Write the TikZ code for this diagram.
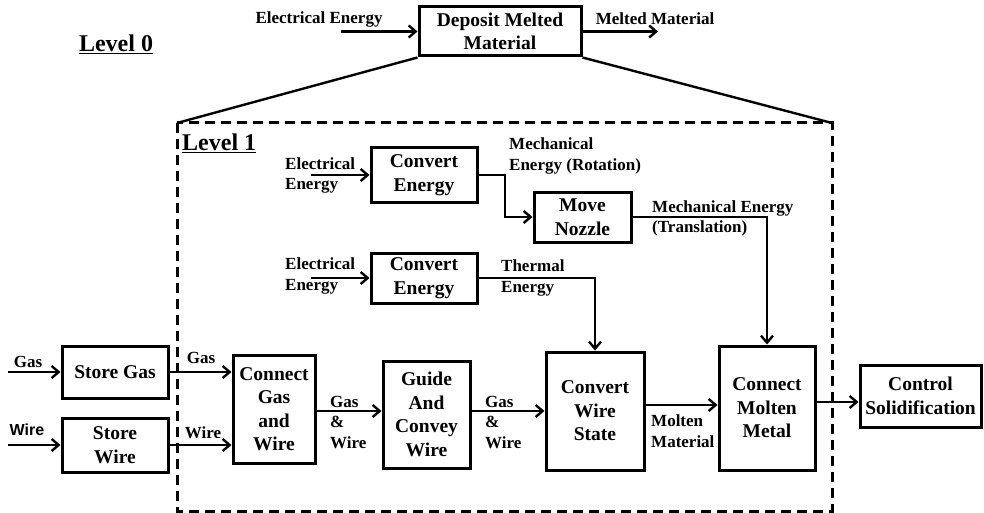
\documentclass[tikz,border=0pt]{standalone}
\usepackage{fontspec}
\setmainfont{Liberation Serif}
\newfontfamily\sansb{Liberation Sans}
\usetikzlibrary{arrows.meta}
\begin{document}
\begin{tikzpicture}[x=1pt,y=-1pt,
  box/.style={draw, line width=3pt, inner sep=0pt, align=center,
    font=\fontsize{19.5}{23.5}\selectfont\bfseries},
  lbl/.style={inner sep=0pt, align=left, font=\fontsize{17}{20.5}\selectfont\bfseries},
  arr/.style={line width=2.4pt, -{Straight Barb[length=7pt,width=12pt]}},
  conn/.style={line width=2.4pt},
  lev/.style={inner sep=0pt, font=\fontsize{24}{28}\selectfont\bfseries}]
\useasboundingbox (0,0) rectangle (984,513);

% Level 0
\node[box, minimum width=162, minimum height=49] (dep) at (500,31.5) {Deposit Melted\\Material};
\coordinate (eein) at (341,31.5);
\coordinate (mmout) at (658,31.5);
\draw[arr] (eein) -- (dep.west);
\draw[arr] (dep.east) -- (mmout);
\node[lbl] (eelab) at (319,19) {Electrical Energy};
\node[lbl] (mmlab) at (655,19) {Melted Material};
\node[lev] (lev0) at (116,44) {\underline{Level 0}};

% dashed frame and expansion lines
\coordinate (fTL) at (177,123);
\coordinate (fTR) at (832,123);
\coordinate (fBR) at (832,511);
\draw[conn] (dep.south west) -- (fTL);
\draw[conn] (dep.south east) -- (fTR);
\draw[line width=3pt, dash pattern=on 10pt off 6pt] (fTL) rectangle (fBR);
\node[lev, anchor=west] (lev1) at (182,143) {\underline{Level 1}};

% boxes
\node[box, minimum width=106, minimum height=54] (ce1) at (424,175) {Convert\\Energy};
\node[box, minimum width=106, minimum height=50] (ce2) at (424,278) {Convert\\Energy};
\node[box, minimum width=97, minimum height=50] (mn) at (582.5,217) {Move\\Nozzle};
\node[box, minimum width=98, minimum height=118] (cws) at (595,411) {Convert\\Wire\\State};
\node[box, minimum width=96, minimum height=124] (cmm) at (767,408) {Connect\\Molten\\Metal};
\node[box, minimum width=121, minimum height=62] (cs) at (920.5,396) {Control\\Solidification};
\node[box, minimum width=106, minimum height=52] (sg) at (115,372) {Store Gas};
\node[box, minimum width=106, minimum height=54] (sw) at (115,445) {Store\\Wire};
\node[box, minimum width=82, minimum height=108] (cgw) at (274,409) {Connect\\Gas\\and\\Wire};
\node[box, minimum width=87, minimum height=107] (gcw) at (426.5,414.5) {Guide\\And\\Convey\\Wire};

% helper coordinates
\coordinate (ee1in) at (311,175);
\coordinate (ee2in) at (311,278);
\coordinate (rot) at (505,175);
\coordinate (gasin) at (8,372);
\coordinate (wirein) at (8,445);
\coordinate (ya) at (0,411);
\coordinate (yb) at (0,405);
\coordinate (yc) at (0,402);

% connectors
\draw[arr] (ee1in) -- (ce1.west);
\draw[arr] (ee2in) -- (ce2.west);
\draw[arr] (ce1.east) -- (rot) |- (mn.west);
\draw[arr] (ce2.east) -| (cws.north);
\draw[arr] (mn.east) -| (cmm.north);
\draw[arr] (gasin) -- (sg.west);
\draw[arr] (wirein) -- (sw.west);
\draw[arr] (sg.east) -- (sg.east -| cgw.west);
\draw[arr] (sw.east) -- (sw.east -| cgw.west);
\draw[arr] (cgw.east |- ya) -- (gcw.west |- ya);
\draw[arr] (gcw.east |- ya) -- (cws.west |- ya);
\draw[arr] (cws.east |- yb) -- (cmm.west |- yb);
\draw[arr] (cmm.east |- yc) -- (cs.west |- yc);

% labels
\node[lbl, anchor=west] (l1) at (285,175.5) {Electrical\\Energy};
\node[lbl, anchor=west] (l2) at (285,276) {Electrical\\Energy};
\node[lbl, anchor=west] (l3) at (509,156) {Mechanical\\Energy (Rotation)};
\node[lbl, anchor=west] (l4) at (652,218.5) {Mechanical Energy\\(Translation)};
\node[lbl, anchor=west] (l5) at (501,278) {Thermal\\Energy};
\node[lbl] (l6) at (28,362) {Gas};
\node[inner sep=0pt, font=\fontsize{16}{18}\selectfont\sansb\bfseries] (l7) at (27,430) {Wire};
\node[lbl] (l8) at (201,358) {Gas};
\node[lbl] (l9) at (203,433) {Wire};
\node[lbl, anchor=west] (l10) at (330,422) {Gas\\\&\\Wire};
\node[lbl, anchor=west] (l11) at (485,422) {Gas\\\&\\Wire};
\node[lbl, anchor=west] (l12) at (651,431) {Molten\\Material};
\end{tikzpicture}
\end{document}
